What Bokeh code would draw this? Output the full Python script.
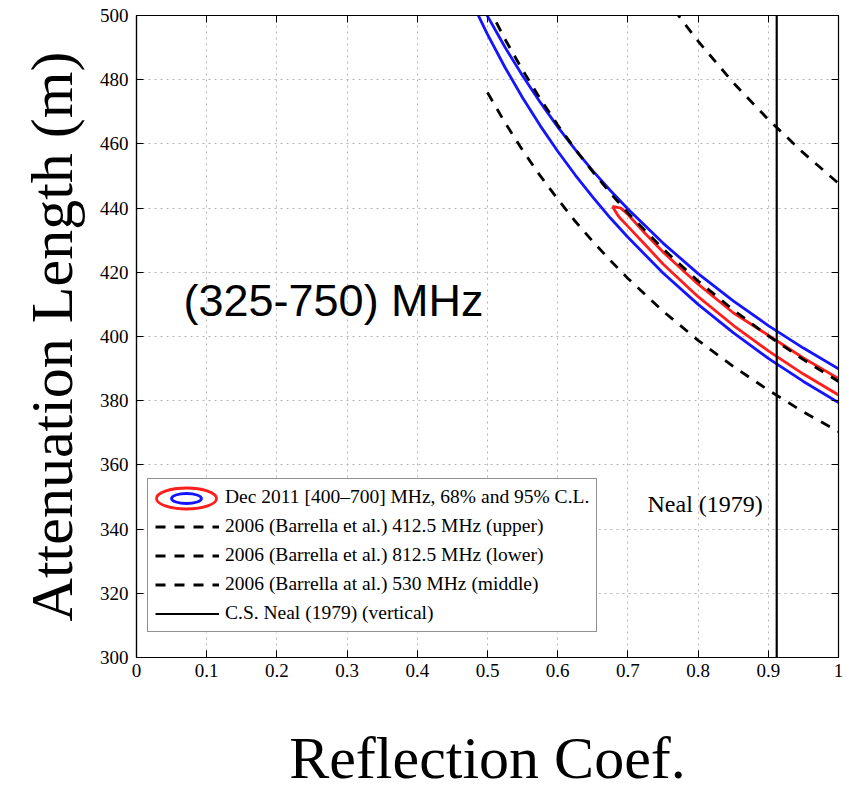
from bokeh.plotting import figure
from bokeh.models import (Range1d, FixedTicker, CustomJSTickFormatter, LinearAxis,
                          Legend, LegendItem, Label)
from bokeh.embed import file_html
from bokeh.resources import INLINE

# ---------------- data ----------------
x_ticks = [0, 0.1, 0.2, 0.3, 0.4, 0.5, 0.6, 0.7, 0.8, 0.9, 1]
y_ticks = [300, 320, 340, 360, 380, 400, 420, 440, 460, 480, 500]

# 95% C.L. contour (blue), two branches visible in the window
blue_upper_x = [0.475, 0.5, 0.525, 0.55, 0.575, 0.6, 0.625, 0.65, 0.675, 0.7, 0.75, 0.8, 0.85, 0.9, 0.95, 1.0]
blue_upper_y = [510.5, 499.8, 490.1, 481.2, 473.0, 465.3, 458.2, 451.6, 445.5, 439.7, 429.1, 419.6, 411.1, 403.4, 396.4, 389.9]
blue_lower_x = [0.475, 0.5, 0.525, 0.55, 0.575, 0.6, 0.625, 0.65, 0.675, 0.7, 0.75, 0.8, 0.85, 0.9, 0.95, 1.0]
blue_lower_y = [505.4, 494.1, 483.8, 474.4, 465.7, 457.7, 450.3, 443.4, 436.9, 430.9, 419.8, 410.0, 401.2, 393.2, 386.0, 379.4]

# 68% C.L. contour (red)
red_upper_x = [0.678, 0.69, 0.7, 0.725, 0.75, 0.8, 0.85, 0.9, 0.95, 1.0]
red_upper_y = [440.5, 440.0, 438.0, 432.0, 426.3, 416.3, 407.4, 400.4, 393.3, 386.9]
red_lower_x = [0.678, 0.685, 0.69, 0.7, 0.725, 0.75, 0.8, 0.85, 0.9, 0.95, 1.0]
red_lower_y = [440.5, 438.0, 436.6, 434.3, 428.5, 422.6, 412.4, 403.5, 395.5, 388.3, 381.8]

# 2006 Barrella et al. curves (dashed)
b412_x = [0.75, 0.775, 0.8, 0.85, 0.9, 0.95, 1.0]
b412_y = [506.6, 499.1, 492.0, 479.1, 467.6, 457.2, 447.7]
b812_x = [0.5, 0.525, 0.55, 0.575, 0.6, 0.625, 0.65, 0.675, 0.7, 0.75, 0.8, 0.85, 0.9, 0.95, 1.0]
b812_y = [476.0, 466.6, 458.0, 450.1, 442.8, 435.9, 429.6, 423.7, 418.1, 407.9, 398.8, 390.7, 383.3, 376.5, 370.4]
b530_x = [0.5, 0.525, 0.55, 0.575, 0.6, 0.625, 0.65, 0.675, 0.7, 0.75, 0.8, 0.85, 0.9, 0.95, 1.0]
b530_y = [503.1, 492.6, 483.0, 474.1, 465.9, 458.3, 451.3, 444.7, 438.5, 427.3, 417.3, 408.3, 400.2, 392.8, 386.0]

# C.S. Neal (1979) reflection coefficient
neal_R = 0.912

x_min, x_max = 0, 1
y_min, y_max = 300, 500

labels = [
    "Dec 2011 [400\u2013700] MHz, 68% and 95% C.L.",
    "2006 (Barrella et al.) 412.5 MHz (upper)",
    "2006 (Barrella et al.) 812.5 MHz (lower)",
    "2006 (Barrella at al.) 530 MHz (middle)",
    "C.S. Neal (1979) (vertical)",
]
x_title = "Reflection Coef."
y_title = "Attenuation Length (m)"
band_text = "(325-750) MHz"
neal_text = "Neal (1979)"

# ---------------- layout ----------------
W, H = 849, 793
BL, BR, BT, BB = 136, 11, 15, 136
SERIF = "Liberation Serif"
frame_w = W - BL - BR
frame_h = H - BT - BB


def to_data(sx, sy_from_top):
    """canvas pixel position -> data coordinates (for annotation placement)"""
    x = x_min + (sx - BL) / frame_w * (x_max - x_min)
    y = y_max - (sy_from_top - BT) / frame_h * (y_max - y_min)
    return x, y


p = figure(width=W, height=H, x_range=Range1d(x_min, x_max), y_range=Range1d(y_min, y_max),
           output_backend="svg", toolbar_location=None,
           min_border_left=BL, min_border_right=BR, min_border_top=BT, min_border_bottom=BB,
           background_fill_color="white", border_fill_color="white")

xt = FixedTicker(ticks=x_ticks)
yt = FixedTicker(ticks=y_ticks)
p.xaxis.ticker = xt
p.yaxis.ticker = yt
p.xgrid.ticker = xt
p.ygrid.ticker = yt
p.xaxis.formatter = CustomJSTickFormatter(code="return String(tick)")

for ax in (p.xaxis[0], p.yaxis[0]):
    ax.major_tick_in = 7
    ax.major_tick_out = 0
    ax.minor_tick_line_color = None
    ax.axis_line_color = "black"
    ax.axis_line_width = 1.2
    ax.major_tick_line_color = "black"
    ax.major_label_text_font = SERIF
    ax.major_label_text_font_size = "19px"
    ax.major_label_text_color = "black"
    ax.axis_label_text_font = SERIF
    ax.axis_label_text_font_size = "60px"
    ax.axis_label_text_font_style = "normal"
    ax.axis_label_text_color = "black"
p.xaxis.axis_label = x_title
p.yaxis.axis_label = y_title
p.xaxis.major_label_standoff = 6
p.yaxis.major_label_standoff = 8
p.xaxis.axis_label_standoff = 45
p.yaxis.axis_label_standoff = 12

for loc, tk in (("right", yt), ("above", xt)):
    a = LinearAxis(ticker=tk, formatter=CustomJSTickFormatter(code="return ''"),
                   major_tick_in=7, major_tick_out=0, minor_tick_line_color=None,
                   axis_line_color="black", major_label_text_font_size="0px",
                   major_label_standoff=0)
    p.add_layout(a, loc)

p.grid.grid_line_color = "#b5b5b5"
p.grid.grid_line_dash = "2 4"
p.grid.grid_line_width = 1
p.outline_line_color = "black"
p.outline_line_width = 1.2

BLUE = "#1414ff"
RED = "#ff1e1e"
LW = 2.8
DASH = "10 9"

p.line(blue_upper_x, blue_upper_y, line_color=BLUE, line_width=LW)
p.line(blue_lower_x, blue_lower_y, line_color=BLUE, line_width=LW)
p.line(red_upper_x, red_upper_y, line_color=RED, line_width=LW)
p.line(red_lower_x, red_lower_y, line_color=RED, line_width=LW)
r412 = p.line(b412_x, b412_y, line_color="black", line_width=LW, line_dash=DASH)
r812 = p.line(b812_x, b812_y, line_color="black", line_width=LW, line_dash=DASH)
r530 = p.line(b530_x, b530_y, line_color="black", line_width=LW, line_dash=DASH)
rneal = p.line([neal_R, neal_R], [y_min, y_max], line_color="black", line_width=2.2)

# ---- legend ----
PAD, GW, GH, ITEM_H, SP = 7, 64, 21, 22, 7
LEG_X, LEG_Y, LEG_W = 11, 25, 450
n_items = len(labels)
leg_h = 2 * PAD + n_items * ITEM_H + (n_items - 1) * SP
leg_left = BL + LEG_X
leg_top = BT + frame_h - LEG_Y - leg_h

# white backing for the legend box (the legend itself is transparent so the icon shows)
qx0, qy0 = to_data(leg_left, leg_top + leg_h)
qx1, qy1 = to_data(leg_left + LEG_W, leg_top)
p.quad(left=[qx0], right=[qx1], bottom=[qy0], top=[qy1], fill_color="white", line_color=None)

# contour legend icon: concentric ellipses at the first legend row
icon_x, icon_y = to_data(leg_left + PAD + GW / 2.0, leg_top + PAD + ITEM_H / 2.0)
p.ellipse(x=[icon_x], y=[icon_y], width=60, height=21, width_units="screen", height_units="screen",
          fill_color=None, line_color=RED, line_width=2.8)
p.ellipse(x=[icon_x], y=[icon_y], width=30, height=10, width_units="screen", height_units="screen",
          fill_color=None, line_color=BLUE, line_width=2.8)

dummy = p.line([red_upper_x[0]], [red_upper_y[0]], line_alpha=0)

legend = Legend(items=[
    LegendItem(label=labels[0], renderers=[dummy]),
    LegendItem(label=labels[1], renderers=[r412]),
    LegendItem(label=labels[2], renderers=[r812]),
    LegendItem(label=labels[3], renderers=[r530]),
    LegendItem(label=labels[4], renderers=[rneal]),
], location=(LEG_X, LEG_Y), margin=0, padding=PAD, spacing=SP,
   glyph_width=GW, glyph_height=GH, label_height=GH, label_standoff=6,
   label_text_font=SERIF, label_text_font_size="19.5px", label_text_color="black",
   border_line_color="#222222", border_line_width=1.5,
   background_fill_color="white", background_fill_alpha=0.0)
p.add_layout(legend)

# text annotations inside the frame
bx, by = to_data(183, 300)
p.add_layout(Label(x=bx, y=by, text=band_text, text_font="Liberation Sans",
                   text_font_size="45px", text_color="black", text_baseline="alphabetic"))
nx, ny = to_data(647, 503)
p.add_layout(Label(x=nx, y=ny, text=neal_text, text_font=SERIF,
                   text_font_size="24px", text_color="black", text_baseline="alphabetic"))

open("out.html", "w").write(file_html(p, INLINE))
